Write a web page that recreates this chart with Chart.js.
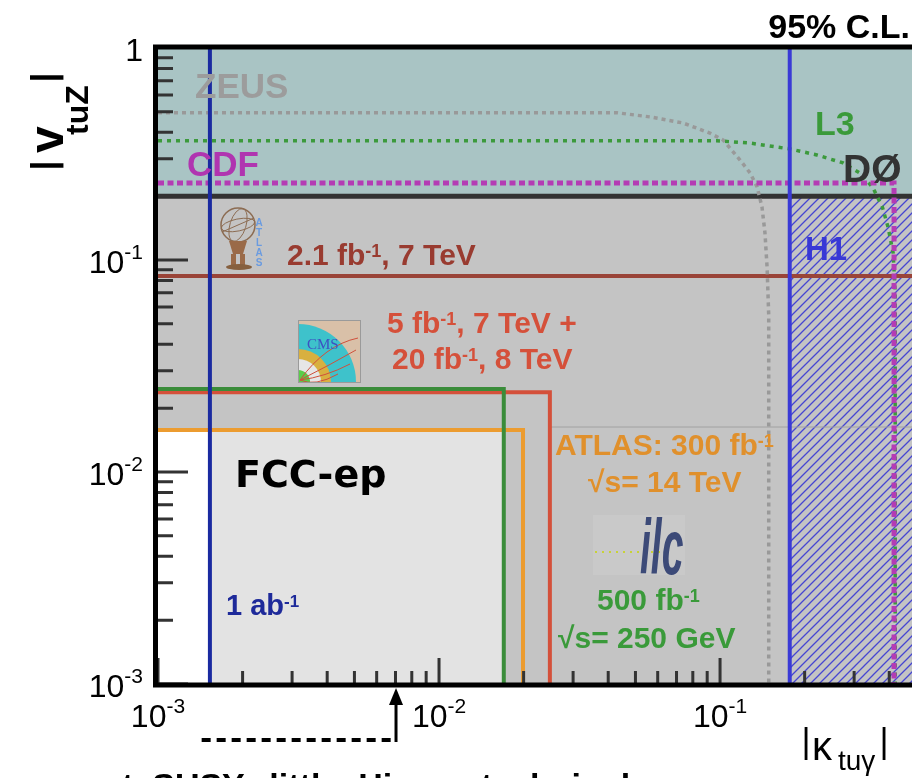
<!DOCTYPE html>
<html>
<head>
<meta charset="utf-8">
<script src="https://cdn.jsdelivr.net/npm/chart.js@4"></script>
<style>
  body { margin: 0; background: #fff; }
  canvas { display: block; }
</style>
</head>
<body>
<canvas id="grafico" width="912" height="778"></canvas>
<script>
// axis ranges (log-log)
const xMin = 0.001, xMax = 0.482;
const yMin = 0.001, yMax = 1;

// tick labels
const xTickValues = [0.001, 0.01, 0.1];
const xTickExps = ['-3', '-2', '-1'];
const yTickValues = [0.001, 0.01, 0.1, 1];
const yTickExps = ['-3', '-2', '-1', ''];

// ZEUS limit (dotted curve)
const zeusX = [0.001, 0.043, 0.0564, 0.0738, 0.092, 0.1026, 0.1178, 0.128, 0.1355, 0.141, 0.1445, 0.147, 0.149, 0.149];
const zeusY = [0.495, 0.495, 0.473, 0.443, 0.397, 0.368, 0.296, 0.257, 0.221, 0.178, 0.134, 0.0927, 0.055, 0.001];

// L3 limit (dotted curve)
const l3X = [0.001, 0.0975, 0.128, 0.1775, 0.221, 0.274, 0.315, 0.350, 0.378, 0.396, 0.413, 0.42, 0.42];
const l3Y = [0.365, 0.365, 0.356, 0.334, 0.313, 0.287, 0.257, 0.219, 0.178, 0.143, 0.108, 0.07, 0.001];

// CDF limit
const cdfX = [0.001, 0.416, 0.416];
const cdfY = [0.231, 0.231, 0.001];

// DØ limit on |v_tuZ|
const d0X = [0.001, 0.482];
const d0Y = [0.2, 0.2];

// H1 limit on |kappa_tuγ|
const h1X = [0.177, 0.177];
const h1Y = [0.001, 1];

// ATLAS 2.1 fb-1, 7 TeV
const atlas7X = [0.001, 0.482];
const atlas7Y = [0.084, 0.084];

// CMS 5 fb-1 7 TeV + 20 fb-1 8 TeV
const cmsX = [0.001, 0.0248, 0.0248];
const cmsY = [0.0238, 0.0238, 0.001];

// ILC 500 fb-1, 250 GeV
const ilcX = [0.001, 0.0170, 0.0170];
const ilcY = [0.0246, 0.0246, 0.001];
const ilcEdgeX = [0.0248, 0.482];
const ilcEdgeY = [0.0163, 0.0163];

// ATLAS 300 fb-1, 14 TeV
const atlas14X = [0.001, 0.0199, 0.0199];
const atlas14Y = [0.0158, 0.0158, 0.001];

// FCC-ep 1 ab-1
const fccX = [0.00153, 0.00153];
const fccY = [0.001, 1];

// arrow below the x axis
const arrowRange = [0.00143, 0.0068];
const arrowAt = 0.00703;

const SANS = '"Liberation Sans", Arial, sans-serif';

function pts(xs, ys) {
  return xs.map((x, i) => ({ x: x, y: ys[i] }));
}

function limitLine(xs, ys, color, width, dash, order) {
  return {
    data: pts(xs, ys), borderColor: color, borderWidth: width,
    borderDash: dash || [], pointRadius: 0, fill: false, tension: 0, order: order
  };
}

function region(xs, ys, color, fill, order) {
  return {
    data: pts(xs, ys), borderColor: 'rgba(0,0,0,0)', borderWidth: 0,
    backgroundColor: color, pointRadius: 0, fill: fill, order: order
  };
}

// blue diagonal hatch for the H1 area
function hatch() {
  const c = document.createElement('canvas');
  c.width = 9; c.height = 9;
  const g = c.getContext('2d');
  g.strokeStyle = '#4646d2';
  g.lineWidth = 1.3;
  g.beginPath();
  g.moveTo(0, 9); g.lineTo(9, 0);
  g.moveTo(-1, 1); g.lineTo(1, -1);
  g.moveTo(8, 10); g.lineTo(10, 8);
  g.stroke();
  return g.createPattern(c, 'repeat');
}

function rich(ctx, x, y, parts, color, align) {
  let w = 0;
  parts.forEach(p => {
    ctx.font = p.f;
    p.w = ctx.measureText(p.t).width;
    w += p.w;
  });
  let cx = align === 'right' ? x - w : align === 'center' ? x - w / 2 : x;
  ctx.fillStyle = color;
  ctx.textAlign = 'left';
  ctx.textBaseline = 'alphabetic';
  parts.forEach(p => {
    ctx.font = p.f;
    ctx.fillText(p.t, cx, y + (p.dy || 0));
    cx += p.w;
  });
}

// strings are normal text, one-element arrays are superscripts
function label(ctx, x, y, size, pieces, color, align) {
  const parts = pieces.map(p => Array.isArray(p)
    ? { t: p[0], f: 'bold ' + Math.round(size * 0.6) + 'px ' + SANS, dy: -size * 0.27 }
    : { t: p, f: 'bold ' + size + 'px ' + SANS });
  rich(ctx, x, y, parts, color, align);
}

function power(ctx, x, y, exp, align) {
  const parts = exp === '' ? [{ t: '1', f: '32px ' + SANS }]
    : [{ t: '10', f: '32px ' + SANS }, { t: exp, f: '21px ' + SANS, dy: -14 }];
  rich(ctx, x, y, parts, '#000', align);
}

function atlasLogo(ctx) {
  ctx.save();
  ctx.strokeStyle = '#8c6c52';
  ctx.lineWidth = 1.5;
  ctx.beginPath(); ctx.arc(238, 225, 17, 0, Math.PI * 2); ctx.stroke();
  ctx.lineWidth = 1;
  ctx.beginPath(); ctx.ellipse(238, 225, 8, 17, 0.3, 0, Math.PI * 2); ctx.stroke();
  ctx.beginPath(); ctx.ellipse(238, 225, 17, 6, -0.2, 0, Math.PI * 2); ctx.stroke();
  ctx.beginPath(); ctx.moveTo(222, 232); ctx.lineTo(254, 218); ctx.stroke();
  ctx.fillStyle = '#9a6a48';
  ctx.beginPath();
  ctx.moveTo(229, 241); ctx.lineTo(247, 241); ctx.lineTo(243, 254); ctx.lineTo(233, 254); ctx.closePath();
  ctx.fill();
  ctx.fillRect(231, 254, 5, 11);
  ctx.fillRect(240, 254, 5, 11);
  ctx.fillStyle = '#86603f';
  ctx.beginPath(); ctx.ellipse(239, 267, 13, 3, 0, 0, Math.PI * 2); ctx.fill();
  ctx.fillStyle = '#6a9be0';
  ctx.font = 'bold 10px ' + SANS;
  ctx.textAlign = 'center';
  'ATLAS'.split('').forEach((ch, i) => ctx.fillText(ch, 259, 226 + i * 10));
  ctx.restore();
}

function cmsLogo(ctx) {
  const x0 = 298, y0 = 320, s = 62;
  ctx.save();
  ctx.beginPath(); ctx.rect(x0, y0, s, s); ctx.clip();
  ctx.fillStyle = '#d9c0a8'; ctx.fillRect(x0, y0, s, s);
  const ox = x0, oy = y0 + s;
  [[58, '#3ec2cb'], [33, '#d8b040'], [23, '#e6e6e6'], [12, '#5acd4a']].forEach(r => {
    ctx.fillStyle = r[1];
    ctx.beginPath(); ctx.moveTo(ox, oy); ctx.arc(ox, oy, r[0], -Math.PI / 2, 0); ctx.closePath(); ctx.fill();
  });
  ctx.strokeStyle = '#d0503c'; ctx.lineWidth = 1;
  [[340, 330, 358, 338], [345, 350, 356, 350], [340, 362, 350, 364], [330, 372, 338, 374]].forEach(c => {
    ctx.beginPath(); ctx.moveTo(ox + 2, oy - 2); ctx.quadraticCurveTo(c[0] - 15, c[1] + 15, c[2], c[3]); ctx.stroke();
  });
  ctx.fillStyle = '#3d52c2';
  ctx.font = '15px "Liberation Serif", serif';
  ctx.textAlign = 'left';
  ctx.fillText('CMS', x0 + 9, y0 + 29);
  ctx.restore();
  ctx.strokeStyle = '#9a9a9a'; ctx.lineWidth = 1;
  ctx.strokeRect(x0 + 0.5, y0 + 0.5, s, s);
}

function ilcLogo(ctx) {
  ctx.save();
  ctx.fillStyle = 'rgba(205,205,205,0.6)';
  ctx.fillRect(593, 515, 92, 60);
  ctx.strokeStyle = '#c8d236'; ctx.lineWidth = 2; ctx.setLineDash([2, 5]);
  ctx.beginPath(); ctx.moveTo(595, 552); ctx.lineTo(668, 552); ctx.stroke();
  ctx.setLineDash([]);
  ctx.translate(640, 574);
  ctx.scale(0.5, 1);
  ctx.fillStyle = '#3c4a78';
  ctx.font = 'italic bold 78px ' + SANS;
  ctx.textAlign = 'left';
  ctx.fillText('ilc', 0, 0);
  ctx.restore();
}

const decor = {
  id: 'decor',
  afterDatasetsDraw(chart) {
    const ctx = chart.ctx;
    const xs = chart.scales.x, ys = chart.scales.y;
    const { left, right, top, bottom } = chart.chartArea;
    ctx.save();

    // logos
    atlasLogo(ctx);
    cmsLogo(ctx);
    ilcLogo(ctx);

    // labels inside the frame
    ctx.textAlign = 'left';
    ctx.font = 'bold 35px ' + SANS;
    ctx.fillStyle = '#9c9c9c'; ctx.fillText('ZEUS', 195, 98);
    ctx.fillStyle = '#b035b0'; ctx.fillText('CDF', 187, 176);
    ctx.font = 'bold 34px ' + SANS;
    ctx.fillStyle = '#3a9a3a'; ctx.fillText('L3', 815, 135);
    ctx.font = 'bold 39px ' + SANS;
    ctx.fillStyle = '#333'; ctx.fillText('DØ', 843, 182);
    ctx.font = 'bold 33px ' + SANS;
    ctx.fillStyle = '#3838d6'; ctx.fillText('H1', 805, 260);

    label(ctx, 287, 265, 30, ['2.1 fb', ['-1'], ', 7 TeV'], '#993b30');
    label(ctx, 387, 333, 30, ['5 fb', ['-1'], ', 7 TeV +'], '#d5503a');
    label(ctx, 392, 369, 30, ['20 fb', ['-1'], ', 8 TeV'], '#d5503a');
    label(ctx, 555, 455, 30, ['ATLAS: 300 fb', ['-1']], '#e0902c');
    label(ctx, 588, 492, 30, ['√s= 14 TeV'], '#e0902c');
    label(ctx, 597, 610, 30, ['500 fb', ['-1']], '#3a9a3a');
    label(ctx, 558, 648, 30, ['√s= 250 GeV'], '#3a9a3a');
    label(ctx, 226, 615, 29, ['1 ab', ['-1']], '#1e2a9a');
    ctx.font = 'bold 38px "DejaVu Sans", sans-serif';
    ctx.fillStyle = '#000';
    ctx.fillText('FCC-ep', 235, 487);

    // ticks
    ctx.strokeStyle = '#333';
    ctx.lineWidth = 3;
    ctx.beginPath();
    for (let d = -3; d < 0; d++) {
      for (let m = 1; m < 10; m++) {
        const v = m * Math.pow(10, d);
        const py = ys.getPixelForValue(v);
        ctx.moveTo(left, py); ctx.lineTo(left + (m === 1 ? 30 : 15), py);
        if (v <= xMax) {
          const px = xs.getPixelForValue(v);
          ctx.moveTo(px, bottom); ctx.lineTo(px, bottom - (m === 1 ? 26 : 13));
        }
      }
    }
    ctx.stroke();

    // frame
    ctx.strokeStyle = '#000';
    ctx.lineWidth = 5;
    ctx.beginPath();
    ctx.moveTo(right + 5, top - 1); ctx.lineTo(left - 2.5, top - 1);
    ctx.lineTo(left - 2.5, bottom + 1); ctx.lineTo(right + 5, bottom + 1);
    ctx.stroke();

    // tick labels
    xTickValues.forEach((v, i) => power(ctx, xs.getPixelForValue(v), 727, xTickExps[i], 'center'));
    yTickValues.forEach((v, i) => power(ctx, 143, ys.getPixelForValue(v) + 13, yTickExps[i], 'right'));

    // axis titles
    ctx.save();
    ctx.translate(63, 172);
    ctx.rotate(-Math.PI / 2);
    ctx.fillStyle = '#000';
    ctx.font = 'bold 35px ' + SANS; ctx.textAlign = 'center';
    ctx.fillText('|', 6.5, -7);
    ctx.fillText('|', 94.5, -7);
    ctx.textAlign = 'left';
    ctx.font = 'bold 48px ' + SANS; ctx.fillText('v', 19, 0);
    ctx.font = 'bold 32px ' + SANS; ctx.fillText('tuZ', 37, 25);
    ctx.restore();

    ctx.fillStyle = '#000';
    ctx.textAlign = 'center';
    ctx.font = '35px ' + SANS;
    ctx.fillText('|', 806, 753);
    ctx.fillText('|', 884, 753);
    ctx.textAlign = 'left';
    ctx.font = '40px ' + SANS; ctx.fillText('κ', 812, 760);
    ctx.font = '28px ' + SANS; ctx.fillText('tuγ', 838, 770);

    ctx.font = 'bold 34px ' + SANS;
    ctx.textAlign = 'right';
    ctx.fillText('95% C.L.', 910, 38);

    // dashed range with arrow pointing at the axis
    const ax = xs.getPixelForValue(arrowAt);
    ctx.strokeStyle = '#000';
    ctx.lineWidth = 4;
    ctx.setLineDash([9, 6]);
    ctx.beginPath();
    ctx.moveTo(xs.getPixelForValue(arrowRange[0]), 740);
    ctx.lineTo(xs.getPixelForValue(arrowRange[1]), 740);
    ctx.stroke();
    ctx.setLineDash([]);
    ctx.lineWidth = 3;
    ctx.beginPath(); ctx.moveTo(ax, 742); ctx.lineTo(ax, 700); ctx.stroke();
    ctx.beginPath(); ctx.moveTo(ax, 688); ctx.lineTo(ax - 7, 705); ctx.lineTo(ax + 7, 705); ctx.closePath(); ctx.fill();

    // models text underneath, cut by the page edge
    ctx.textAlign = 'left';
    ctx.font = 'bold 34px ' + SANS;
    ctx.fillText('t  SUSY,  little  Higgs,  technicolor', 122, 797);
    ctx.restore();
  }
};

new Chart(document.getElementById('grafico'), {
  type: 'line',
  data: {
    datasets: [
      region(d0X, d0Y, '#a9c4c4', 'end', 30),
      region(d0X, d0Y, '#c4c4c4', 'start', 29),
      region([fccX[0], ilcX[1]], [atlas14Y[0], atlas14Y[0]], '#e3e3e3', 'start', 28),
      region([xMin, fccX[0]], [atlas14Y[0], atlas14Y[0]], '#ffffff', 'start', 27),
      region([h1X[0], xMax], d0Y, hatch(), 'start', 26),
      limitLine(ilcEdgeX, ilcEdgeY, '#a2a2a2', 1, null, 25),
      limitLine(d0X, d0Y, '#333333', 5, null, 24),
      limitLine(atlas7X, atlas7Y, '#9a4438', 4, null, 23),
      limitLine(zeusX, zeusY, '#999999', 3.5, [4, 4], 22),
      limitLine(l3X, l3Y, '#3c9a3c', 3.5, [4, 5], 21),
      limitLine(cdfX, cdfY, '#b43cb4', 5, [6, 3.5], 20),
      limitLine(cmsX, cmsY, '#d4503a', 4, null, 19),
      limitLine(atlas14X, atlas14Y, '#ec9c30', 4, null, 18),
      limitLine(ilcX, ilcY, '#3a8c3a', 4, null, 17),
      limitLine(h1X, h1Y, '#3a3ad6', 4, null, 16),
      limitLine(fccX, fccY, '#1a2aa0', 4, null, 15)
    ]
  },
  options: {
    responsive: false,
    animation: false,
    events: [],
    layout: { padding: { left: 158, top: 48, right: 0, bottom: 94 } },
    plugins: {
      legend: { display: false },
      tooltip: { enabled: false }
    },
    scales: {
      x: { type: 'logarithmic', min: xMin, max: xMax, bounds: 'data', display: false },
      y: { type: 'logarithmic', min: yMin, max: yMax, bounds: 'data', display: false }
    }
  },
  plugins: [decor]
});
</script>
</body>
</html>
